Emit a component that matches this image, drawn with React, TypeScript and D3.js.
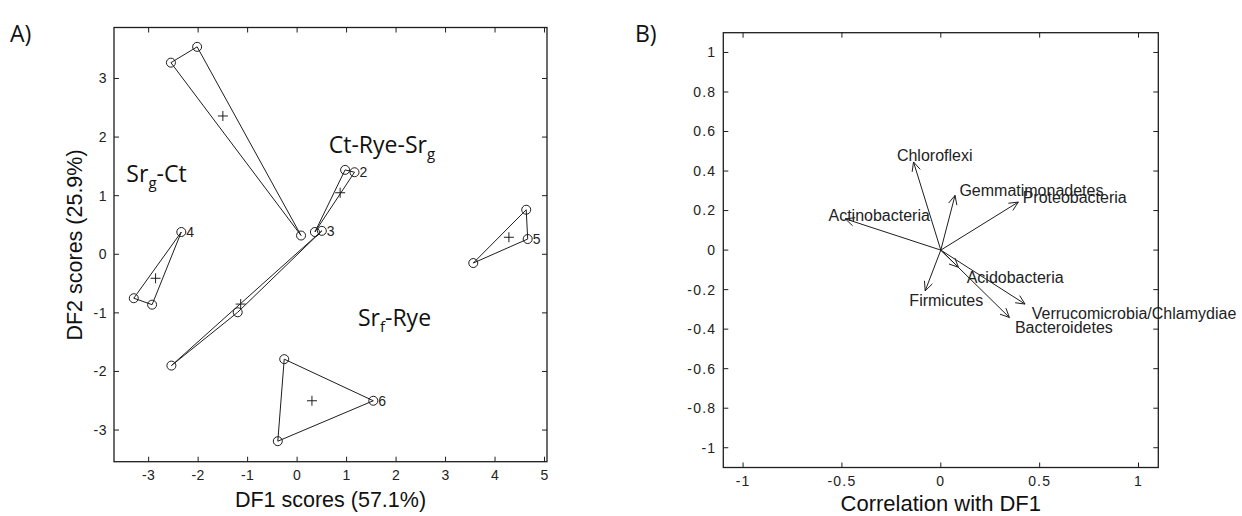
import React from 'react';
import * as d3 from 'd3';

// Panel A: discriminant function scores, three samples per group
const groupPoints: [number, number][][] = [
  [[-2.55, 3.27], [-2.02, 3.54], [0.08, 0.32]],
  [[0.97, 1.44], [1.16, 1.40], [0.36, 0.38]],
  [[-2.54, -1.90], [-1.20, -0.99], [0.50, 0.40]],
  [[-2.34, 0.38], [-3.30, -0.75], [-2.93, -0.86]],
  [[4.63, 0.76], [4.66, 0.26], [3.56, -0.15]],
  [[-0.26, -1.79], [1.54, -2.50], [-0.39, -3.19]],
];
const groupCentroids: [number, number][] = [
  [-1.50, 2.36], [0.87, 1.05], [-1.14, -0.85], [-2.86, -0.41], [4.28, 0.29], [0.30, -2.50],
];
const groupNames = ['', '2', '3', '4', '5', '6'];
const groupLabelPoint = [0, 1, 2, 0, 1, 1];
const dfTicksX = [-3, -2, -1, 0, 1, 2, 3, 4, 5];
const dfTicksY = [-3, -2, -1, 0, 1, 2, 3];

// Panel B: correlations of taxa with DF1 / DF2
const taxa = ['Chloroflexi', 'Gemmatimonadetes', 'Proteobacteria', 'Actinobacteria',
  'Acidobacteria', 'Firmicutes', 'Verrucomicrobia/Chlamydiae', 'Bacteroidetes'];
const corrDF1 = [-0.138, 0.072, 0.392, -0.483, 0.089, -0.079, 0.426, 0.347];
const corrDF2 = [0.446, 0.277, 0.243, 0.158, -0.087, -0.206, -0.273, -0.341];
const corrTicksX = [-1, -0.5, 0, 0.5, 1];
const corrTicksY = [-1, -0.8, -0.6, -0.4, -0.2, 0, 0.2, 0.4, 0.6, 0.8, 1];

// where each taxon name sits (data coords, left edge / middle)
const taxaLabelPos: [number, number][] = [
  [-0.222, 0.48], [0.094, 0.302], [0.414, 0.265], [-0.568, 0.175],
  [0.131, -0.138], [-0.159, -0.256], [0.46, -0.32], [0.375, -0.392],
];

const ink = '#1e1e1e';
const helv = 'Liberation Sans, Arial, sans-serif';
const calib = 'Open Sans, sans-serif';

function Frame({ x, y, ticksX, ticksY, fmt, fs, ls }: any) {
  const [x0, x1] = x.range();
  const [y0, y1] = y.range();
  const t = 5;
  return (
    <g>
      <rect x={x0} y={y1} width={x1 - x0} height={y0 - y1} fill="none" stroke={ink} strokeWidth={1.3} />
      {ticksX.map((v: number) => (
        <g key={'x' + v}>
          <line x1={x(v)} x2={x(v)} y1={y0} y2={y0 - t} stroke={ink} />
          <line x1={x(v)} x2={x(v)} y1={y1} y2={y1 + t} stroke={ink} />
          <text x={x(v)} y={y0 + 18} textAnchor="middle" fontFamily={helv} fontSize={fs}
            letterSpacing={ls} fill="#222">{fmt(v)}</text>
        </g>
      ))}
      {ticksY.map((v: number) => (
        <g key={'y' + v}>
          <line x1={x0} x2={x0 + t} y1={y(v)} y2={y(v)} stroke={ink} />
          <line x1={x1} x2={x1 - t} y1={y(v)} y2={y(v)} stroke={ink} />
          <text x={x0 - 7} y={y(v)} dy="0.35em" textAnchor="end" fontFamily={helv} fontSize={fs}
            letterSpacing={ls} fill="#222">{fmt(v)}</text>
        </g>
      ))}
    </g>
  );
}

function PanelA() {
  const x = d3.scaleLinear().domain([-3.7, 5.05]).range([114, 547]);
  const y = d3.scaleLinear().domain([-3.54, 3.87]).range([461.7, 27.5]);
  const line = d3.line<[number, number]>().x(d => x(d[0])).y(d => y(d[1])).curve(d3.curveLinearClosed);
  const regionText = [
    { a: 'Sr', s: 'g', b: '-Ct', px: -3.45, py: 1.225 },
    { a: 'Ct-Rye-Sr', s: 'g', b: '', px: 0.64, py: 1.73 },
    { a: 'Sr', s: 'f', b: '-Rye', px: 1.23, py: -1.22 },
  ];
  return (
    <g>
      <Frame x={x} y={y} ticksX={dfTicksX} ticksY={dfTicksY} fmt={(v: number) => String(v)} fs={14} ls={0.5} />
      {groupPoints.map((pts, i) => (
        <g key={i}>
          <path d={line(pts) || ''} fill="none" stroke={ink} strokeWidth={1} />
          {pts.map((p, j) => (
            <circle key={j} cx={x(p[0])} cy={y(p[1])} r={4.5} fill="none" stroke={ink} strokeWidth={1} />
          ))}
          <path d={`M${x(groupCentroids[i][0]) - 5},${y(groupCentroids[i][1])}h10M${x(groupCentroids[i][0])},${y(groupCentroids[i][1]) - 5}v10`}
            stroke={ink} strokeWidth={1} />
          {groupNames[i] && (
            <text x={x(pts[groupLabelPoint[i]][0]) + 5} y={y(pts[groupLabelPoint[i]][1])} dy="0.35em"
              fontFamily={helv} fontSize={14} fill="#222">{groupNames[i]}</text>
          )}
        </g>
      ))}
      {regionText.map((r, i) => (
        <text key={i} x={x(r.px)} y={y(r.py)} fontFamily={calib} fontSize={23} fill="#111">
          {r.a}<tspan fontSize={15} dy={6}>{r.s}</tspan><tspan dy={-6}>{r.b}</tspan>
        </text>
      ))}
      <text x={330.5} y={507} textAnchor="middle" fontFamily={helv} fontSize={21.5} fill="#111">DF1 scores (57.1%)</text>
      <text transform={`translate(82,245) rotate(-90)`} textAnchor="middle" fontFamily={helv} fontSize={21.5} fill="#111">DF2 scores (25.9%)</text>
    </g>
  );
}

function PanelB() {
  const x = d3.scaleLinear().domain([-1.1, 1.1]).range([723.3, 1158.3]);
  const y = d3.scaleLinear().domain([-1.1, 1.1]).range([467.5, 32.7]);
  const fmt = (v: number) => String(Math.round(v * 10) / 10);
  const head = 10;
  const ang = (25 * Math.PI) / 180;
  return (
    <g>
      <Frame x={x} y={y} ticksX={corrTicksX} ticksY={corrTicksY} fmt={fmt} fs={14} ls={1.2} />
      {taxa.map((name, i) => {
        const ox = x(0), oy = y(0);
        const tx = x(corrDF1[i]), ty = y(corrDF2[i]);
        const th = Math.atan2(ty - oy, tx - ox);
        const a1 = [tx - head * Math.cos(th - ang), ty - head * Math.sin(th - ang)];
        const a2 = [tx - head * Math.cos(th + ang), ty - head * Math.sin(th + ang)];
        return (
          <g key={name}>
            <line x1={ox} y1={oy} x2={tx} y2={ty} stroke={ink} strokeWidth={1} />
            <path d={`M${a1[0]},${a1[1]}L${tx},${ty}L${a2[0]},${a2[1]}`} fill="none" stroke={ink} strokeWidth={1} />
            <text x={x(taxaLabelPos[i][0])} y={y(taxaLabelPos[i][1])} dy="0.35em"
              fontFamily={helv} fontSize={16} fill="#222">{name}</text>
          </g>
        );
      })}
      <text x={940.8} y={511} textAnchor="middle" fontFamily={helv} fontSize={22} fill="#111">Correlation with DF1</text>
    </g>
  );
}

export default function App() {
  return (
    <svg width={1242} height={516} style={{ position: 'absolute', left: 0, top: 0, background: '#fff' }}>
      <rect width={1242} height={516} fill="#fff" />
      <text x={10} y={42} fontFamily={calib} fontSize={23} fill="#111">A)</text>
      <text x={635} y={42} fontFamily={calib} fontSize={23} fill="#111">B)</text>
      <PanelA />
      <PanelB />
    </svg>
  );
}
